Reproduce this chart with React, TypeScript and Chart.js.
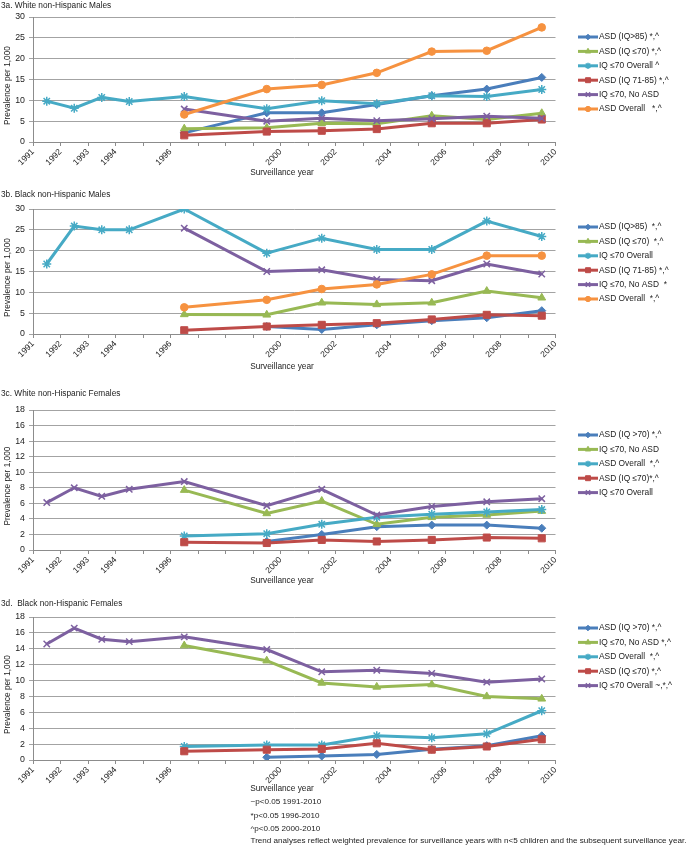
import React, { useEffect, useRef } from 'react';
import { Chart, registerables } from 'chart.js';
import { drawPoint } from 'chart.js/helpers';

Chart.register(...registerables);

// ---------- DATA ----------
const SURVEY_X = [1991.5, 1992.5, 1993.5, 1994.5, 1996.5, 1999.5, 2001.5, 2003.5, 2005.5, 2007.5, 2009.5];
const X_TICK_LABELS = ['1991', '1992', '1993', '1994', '1996', '2000', '2002', '2004', '2006', '2008', '2010'];

// 3a White non-Hispanic Males
const A_ASD_IQ85 = [null, null, null, null, 2.2, 7.0, 7.0, 9.0, 11.1, 12.7, 15.5];
const A_ASD_IQ70 = [null, null, null, null, 3.2, 3.4, 4.5, 4.4, 6.3, 5.4, 6.9];
const A_IQ70_OVERALL = [9.8, 8.1, 10.7, 9.7, 10.9, 8.0, 9.9, 9.2, 11.1, 10.9, 12.6];
const A_ASD_IQ7185 = [null, null, null, null, 1.6, 2.5, 2.7, 3.1, 4.5, 4.5, 5.4];
const A_IQ70_NOASD = [null, null, null, null, 7.9, 5.0, 5.7, 5.1, 5.6, 6.2, 5.7];
const A_ASD_OVERALL = [null, null, null, null, 6.6, 12.7, 13.7, 16.6, 21.7, 21.9, 27.5];
const A_LABELS = ['ASD (IQ>85) *,^', 'ASD (IQ \u226470) *,^', 'IQ \u226470 Overall ^', 'ASD (IQ 71-85) *,^', 'IQ \u226470, No ASD', 'ASD Overall   *,^'];

// 3b Black non-Hispanic Males
const B_ASD_IQ85 = [null, null, null, null, null, 1.8, 1.1, 2.2, 3.2, 3.9, 5.6];
const B_ASD_IQ70 = [null, null, null, null, 4.7, 4.6, 7.5, 7.1, 7.5, 10.3, 8.7];
const B_IQ70_OVERALL = [16.8, 25.9, 25.0, 25.0, 30.0, 19.4, 23.0, 20.3, 20.3, 27.1, 23.4];
const B_ASD_IQ7185 = [null, null, null, null, 0.9, 1.8, 2.2, 2.6, 3.5, 4.6, 4.4];
const B_IQ70_NOASD = [null, null, null, null, 25.4, 15.0, 15.4, 13.1, 12.8, 16.8, 14.4];
const B_ASD_OVERALL = [null, null, null, null, 6.4, 8.2, 10.8, 11.9, 14.3, 18.8, 18.8];
const B_LABELS = ['ASD (IQ>85)  *,^', 'ASD (IQ \u226470)  *,^', 'IQ \u226470 Overall', 'ASD (IQ 71-85) *,^', 'IQ \u226470, No ASD  *', 'ASD Overall  *,^'];

// 3c White non-Hispanic Females
const C_ASD_IQ70UP = [null, null, null, null, null, 1.1, 2.0, 3.0, 3.2, 3.2, 2.8];
const C_IQ70_NOASD = [null, null, null, null, 7.7, 4.7, 6.3, 3.3, 4.2, 4.5, 5.0];
const C_ASD_OVERALL = [null, null, null, null, 1.8, 2.1, 3.3, 4.2, 4.6, 4.9, 5.2];
const C_ASD_IQ70 = [null, null, null, null, 1.0, 0.9, 1.3, 1.1, 1.3, 1.6, 1.5];
const C_IQ70_OVERALL = [6.1, 8.0, 6.9, 7.8, 8.8, 5.7, 7.8, 4.5, 5.6, 6.2, 6.6];
const C_LABELS = ['ASD (IQ >70) *,^', 'IQ \u226470, No ASD', 'ASD Overall  *,^', 'ASD (IQ \u226470)*,^', 'IQ \u226470 Overall'];

// 3d Black non-Hispanic Females
const D_ASD_IQ70UP = [null, null, null, null, null, 0.35, 0.5, 0.7, 1.35, 1.8, 3.05];
const D_IQ70_NOASD = [null, null, null, null, 14.4, 12.5, 9.7, 9.2, 9.5, 8.0, 7.7];
const D_ASD_OVERALL = [null, null, null, null, 1.7, 1.9, 1.9, 3.05, 2.8, 3.3, 6.2];
const D_ASD_IQ70 = [null, null, null, null, 1.1, 1.3, 1.4, 2.1, 1.3, 1.7, 2.6];
const D_IQ70_OVERALL = [14.6, 16.6, 15.2, 14.9, 15.5, 13.9, 11.1, 11.3, 10.9, 9.8, 10.2];
const D_LABELS = ['ASD (IQ >70) *,^', 'IQ \u226470, No ASD *,^', 'ASD Overall  *,^', 'ASD (IQ \u226470) *,^', 'IQ \u226470 Overall ~,*,^'];

const NOTES = [
  '~p<0.05 1991-2010',
  '*p<0.05 1996-2010',
  '^p<0.05 2000-2010',
  'Trend analyses reflect weighted prevalence for surveillance years with n<5 children and the subsequent surveillance year.',
];

// ---------- STYLE ----------
const FONT = '"Liberation Sans", Arial, sans-serif';
const TEXT = '#222222';
const AXIS = '#8c8c8c';
const GRID = '#a3a3a3';
const BLUE = '#4a7ebb';
const RED = '#be4b48';
const GREEN = '#98b954';
const PURPLE = '#7d60a0';
const TEAL = '#46aac5';
const ORANGE = '#f69240';

type Mk = { color: string; style: string; radius: number; bw: number };
const M_DIAMOND: Mk = { color: BLUE, style: 'rectRot', radius: 4, bw: 1 };
const M_TRI: Mk = { color: GREEN, style: 'triangle', radius: 4.5, bw: 1 };
const M_STAR_T: Mk = { color: TEAL, style: 'star', radius: 4.5, bw: 1.5 };
const M_SQ: Mk = { color: RED, style: 'rect', radius: 5, bw: 1 };
const M_X: Mk = { color: PURPLE, style: 'crossRot', radius: 4.5, bw: 1.5 };
const M_CIRC: Mk = { color: ORANGE, style: 'circle', radius: 3.8, bw: 1 };

type Panel = {
  top: number; height: number; areaTop: number; areaBottom: number; yMax: number; yStep: number;
  title: string; titleY: number; xTitleY: number; legendTop: number; notes?: string[];
  series: { label: string; values: (number | null)[]; mk: Mk }[];
};

const PANELS: Panel[] = [
  {
    top: 0, height: 190, areaTop: 17, areaBottom: 142, yMax: 30, yStep: 5,
    title: '3a. White non-Hispanic Males', titleY: 5.5, xTitleY: 173, legendTop: 37,
    series: [
      { label: A_LABELS[0], values: A_ASD_IQ85, mk: M_DIAMOND },
      { label: A_LABELS[1], values: A_ASD_IQ70, mk: M_TRI },
      { label: A_LABELS[2], values: A_IQ70_OVERALL, mk: M_STAR_T },
      { label: A_LABELS[3], values: A_ASD_IQ7185, mk: M_SQ },
      { label: A_LABELS[4], values: A_IQ70_NOASD, mk: M_X },
      { label: A_LABELS[5], values: A_ASD_OVERALL, mk: M_CIRC },
    ],
  },
  {
    top: 190, height: 190, areaTop: 19, areaBottom: 144, yMax: 30, yStep: 5,
    title: '3b. Black non-Hispanic Males', titleY: 4.5, xTitleY: 177, legendTop: 37,
    series: [
      { label: B_LABELS[0], values: B_ASD_IQ85, mk: M_DIAMOND },
      { label: B_LABELS[1], values: B_ASD_IQ70, mk: M_TRI },
      { label: B_LABELS[2], values: B_IQ70_OVERALL, mk: M_STAR_T },
      { label: B_LABELS[3], values: B_ASD_IQ7185, mk: M_SQ },
      { label: B_LABELS[4], values: B_IQ70_NOASD, mk: M_X },
      { label: B_LABELS[5], values: B_ASD_OVERALL, mk: M_CIRC },
    ],
  },
  {
    top: 380, height: 210, areaTop: 30, areaBottom: 170, yMax: 18, yStep: 2,
    title: '3c. White non-Hispanic Females', titleY: 14, xTitleY: 200.5, legendTop: 55,
    series: [
      { label: C_LABELS[0], values: C_ASD_IQ70UP, mk: M_DIAMOND },
      { label: C_LABELS[1], values: C_IQ70_NOASD, mk: M_TRI },
      { label: C_LABELS[2], values: C_ASD_OVERALL, mk: M_STAR_T },
      { label: C_LABELS[3], values: C_ASD_IQ70, mk: M_SQ },
      { label: C_LABELS[4], values: C_IQ70_OVERALL, mk: M_X },
    ],
  },
  {
    top: 590, height: 256, areaTop: 27, areaBottom: 170, yMax: 18, yStep: 2,
    title: '3d.  Black non-Hispanic Females', titleY: 14, xTitleY: 199, legendTop: 38, notes: NOTES,
    series: [
      { label: D_LABELS[0], values: D_ASD_IQ70UP, mk: M_DIAMOND },
      { label: D_LABELS[1], values: D_IQ70_NOASD, mk: M_TRI },
      { label: D_LABELS[2], values: D_ASD_OVERALL, mk: M_STAR_T },
      { label: D_LABELS[3], values: D_ASD_IQ70, mk: M_SQ },
      { label: D_LABELS[4], values: D_IQ70_OVERALL, mk: M_X },
    ],
  },
];

const W = 694;
const AREA_LEFT = 33;
const AREA_RIGHT = 555.5;
const LEGEND_STEP = 14.4;

const decorPlugin = {
  id: 'decor',
  afterDraw(chart: any, _args: any, opts: any) {
    const ctx: CanvasRenderingContext2D = chart.ctx;
    const area = chart.chartArea;
    ctx.save();
    ctx.fillStyle = TEXT;
    ctx.font = `8.3px ${FONT}`;
    ctx.textBaseline = 'middle';
    ctx.textAlign = 'left';
    ctx.fillText(opts.title, 1, opts.titleY);
    ctx.textAlign = 'center';
    ctx.fillText('Surveillance year', 282, opts.xTitleY);
    ctx.save();
    ctx.translate(8, (area.top + area.bottom) / 2 + 6);
    ctx.rotate(-Math.PI / 2);
    ctx.fillText('Prevalence per 1,000', 0, 0);
    ctx.restore();
    // legend
    ctx.font = `8.4px ${FONT}`;
    const series = opts.series as Panel['series'];
    series.forEach((s, i) => {
      const y = opts.legendTop + i * LEGEND_STEP;
      ctx.strokeStyle = s.mk.color;
      ctx.lineWidth = 3;
      ctx.beginPath();
      ctx.moveTo(578, y);
      ctx.lineTo(598, y);
      ctx.stroke();
      ctx.fillStyle = s.mk.color;
      ctx.strokeStyle = s.mk.color;
      ctx.lineWidth = s.mk.bw;
      drawPoint(ctx, { pointStyle: s.mk.style as any, radius: s.mk.radius * 0.7, borderWidth: s.mk.bw, rotation: 0 }, 588, y);
      ctx.fillStyle = TEXT;
      ctx.textAlign = 'left';
      ctx.fillText(s.label, 599, y);
    });
    if (opts.notes) {
      ctx.font = `8.1px ${FONT}`;
      ctx.textAlign = 'left';
      const ys = [212, 226, 239, 251];
      (opts.notes as string[]).forEach((n, i) => ctx.fillText(n, 250.5, ys[i]));
    }
    ctx.restore();
  },
};

function PanelChart({ p }: { p: Panel }) {
  const ref = useRef<HTMLCanvasElement>(null);
  useEffect(() => {
    if (!ref.current) return;
    const n = p.series.length;
    const chart = new Chart(ref.current, {
      type: 'line',
      data: {
        datasets: p.series.map((s, i) => ({
          label: s.label,
          data: SURVEY_X.map((x, j) => ({ x, y: s.values[j] })).filter((d) => d.y !== null) as any,
          borderColor: s.mk.color,
          backgroundColor: s.mk.color,
          borderWidth: 3,
          pointStyle: s.mk.style as any,
          pointRadius: s.mk.radius,
          pointBorderWidth: s.mk.bw,
          pointBackgroundColor: s.mk.color,
          pointBorderColor: s.mk.color,
          tension: 0,
          order: n - i,
        })),
      },
      options: {
        animation: false,
        responsive: false,
        events: [],
        layout: {
          autoPadding: false,
          padding: { top: p.areaTop, left: 0, right: W - AREA_RIGHT, bottom: 0 },
        },
        plugins: {
          legend: { display: false },
          tooltip: { enabled: false },
          title: { display: false },
          decor: { ...p } as any,
        } as any,
        scales: {
          x: {
            type: 'linear',
            min: 1991,
            max: 2010,
            afterFit: (s: any) => { s.height = p.height - p.areaBottom; },
            ticks: {
              stepSize: 1,
              autoSkip: false,
              maxRotation: 45,
              minRotation: 45,
              padding: 1,
              font: { family: FONT, size: 8.5 },
              color: TEXT,
              callback: (v: any) => (X_TICK_LABELS.includes(String(v)) ? String(v) : ''),
            },
            grid: { drawOnChartArea: false, tickLength: 4, color: AXIS },
            border: { color: AXIS },
          },
          y: {
            min: 0,
            max: p.yMax,
            afterFit: (s: any) => { s.width = AREA_LEFT; },
            ticks: { stepSize: p.yStep, padding: 4, font: { family: FONT, size: 8.8 }, color: TEXT },
            grid: { color: GRID, tickLength: 4 },
            border: { color: AXIS },
          },
        },
      },
      plugins: [decorPlugin as any],
    });
    return () => chart.destroy();
  }, [p]);
  return (
    <canvas
      ref={ref}
      width={W}
      height={p.height}
      style={{ position: 'absolute', left: 0, top: p.top, width: W, height: p.height, display: 'block' }}
    />
  );
}

export default function App() {
  return (
    <div style={{ position: 'absolute', left: 0, top: 0, width: W, height: 846, background: '#ffffff', overflow: 'hidden' }}>
      {PANELS.map((p, i) => (
        <PanelChart key={i} p={p} />
      ))}
    </div>
  );
}
